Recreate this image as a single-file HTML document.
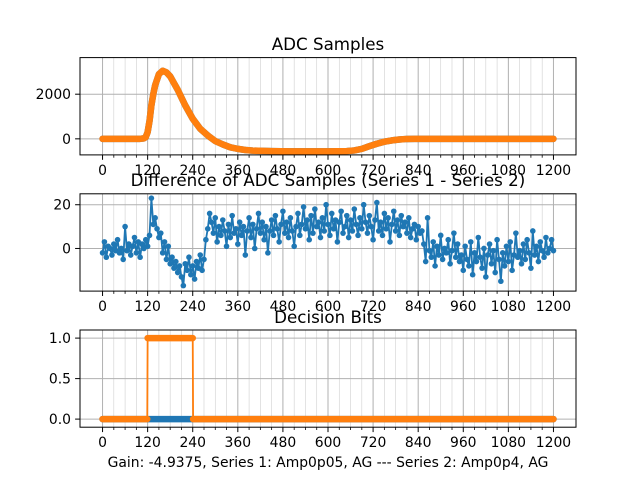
<!DOCTYPE html>
<html><head><meta charset="utf-8"><style>
body{margin:0;background:#fff}
svg{display:block;font-family:"DejaVu Sans","Liberation Sans",sans-serif}
</style></head><body>
<svg id="fig" width="640" height="480" viewBox="0 0 640 480">
<text x="328" y="50" font-size="16.7" text-anchor="middle">ADC Samples</text>
<text x="328" y="186" font-size="16.7" text-anchor="middle">Difference of ADC Samples (Series 1 - Series 2)</text>
<text x="328" y="323" font-size="16.7" text-anchor="middle">Decision Bits</text>
<text x="328" y="467" font-size="13.9" text-anchor="middle">Gain: -4.9375, Series 1: Amp0p05, AG --- Series 2: Amp0p4, AG</text>
</svg>
<script>
const xTicks=[0,120,240,360,480,600,720,840,960,1080,1200];
const adcX=[0,20,40,60,80,100,110,115,120,125,130,135,140,150,160,170,180,190,200,220,240,260,280,300,320,340,360,380,400,450,500,550,600,650,670,690,710,730,750,770,790,810,830,900,1000,1100,1200];
const adcY=[0,0,0,0,0,0,20,80,300,800,1500,2000,2400,2900,3050,2980,2800,2500,2200,1500,900,450,150,-100,-250,-380,-450,-500,-530,-550,-560,-560,-560,-550,-520,-450,-330,-220,-130,-70,-30,-5,0,0,0,0,0];
const adcTicks=[0,2000];
const diffStart=0, diffStep=5;
const diffY=[-2,3,-4,1,0,-3,2,-1,4,-2,0,-5,10,-1,2,-3,1,5,-2,3,-4,2,0,4,1,
6,23,11,14,9,5,
7,-2,3,-5,1,-7,-4,-9,-6,-11,-8,-13,-17,-7,-10,-4,-12,-8,-14,-6,-9,-3,-10,-5,
4,9,16,12,7,14,3,10,6,13,8,1,11,5,15,7,9,2,12,6,
10,-3,8,14,5,11,0,9,16,7,12,4,10,-2,8,13,6,15,9,3,
11,17,7,12,5,14,8,1,10,16,6,11,19,9,13,4,15,7,18,10,
12,5,14,8,20,11,6,16,9,13,3,12,17,7,10,15,5,13,8,18,
11,6,14,9,20,12,7,15,10,4,13,21,8,12,6,16,9,14,3,11,
17,8,13,6,15,10,12,7,14,5,9,11,4,10,7,8,
2,-6,14,-1,-4,3,-8,1,-3,6,-5,0,-2,4,-7,-1,7,-4,2,-6,
-3,-10,1,-5,-8,3,-12,-2,-6,5,-4,-9,0,-13,-3,2,-7,-1,-11,4,
-5,-15,-2,-8,1,-6,3,-10,-3,7,-4,-1,-7,2,-5,4,-2,-9,8,-3,
1,-6,3,-1,-4,5,-2,0,4,-1];
const diffTicks=[0,20];
const bits1X=[0,1200];
const bits1Y=[0,0];
const bits2X=[0,119,120,240,241,1200];
const bits2Y=[0,0,1,1,0,0];
const bitTicks=[0,0.5,1];
const bitTickLabels=["0.0","0.5","1.0"];

const svg=document.getElementById('fig');
const NS='http://www.w3.org/2000/svg';
function mk(t,a,p){const e=document.createElementNS(NS,t);for(const k in a)e.setAttribute(k,a[k]);(p||svg).appendChild(e);return e;}
const L=80,R=576;
function sx(v){return L+(v+60)/1320*(R-L);}
function axes(top,bot,y0,y1,ticks,labels,name){
  const sy=v=>bot-(v-y0)/(y1-y0)*(bot-top);
  const g=mk('g',{});
  
  
  for(let v=0;v<=1200;v+=30){if(v%120===0)continue;
    const l=mk('line',{x1:sx(v),x2:sx(v),y1:top,y2:bot,stroke:'#b0b0b0','stroke-width':0.6,'stroke-opacity':0.6},g);
    
    mk('line',{x1:sx(v),x2:sx(v),y1:bot,y2:bot+2.8,stroke:'#000','stroke-width':0.8},g);}
  xTicks.forEach(v=>{
    const l=mk('line',{x1:sx(v),x2:sx(v),y1:top,y2:bot,stroke:'#b0b0b0','stroke-width':1},g);
    
    mk('line',{x1:sx(v),x2:sx(v),y1:bot,y2:bot+4.9,stroke:'#000','stroke-width':1},g);
    const t=mk('text',{x:sx(v),y:bot+20,'font-size':13.9,'text-anchor':'middle'},g);t.textContent=v;
    });
  ticks.forEach((v,i)=>{
    const l=mk('line',{x1:L,x2:R,y1:sy(v),y2:sy(v),stroke:'#b0b0b0','stroke-width':1},g);
    
    mk('line',{x1:L-4.9,x2:L,y1:sy(v),y2:sy(v),stroke:'#000','stroke-width':1},g);
    const t=mk('text',{x:L-9,y:sy(v)+5,'font-size':13.9,'text-anchor':'end'},g);t.textContent=labels?labels[i]:v;
    });
  return sy;
}
function frame(top,bot){const r=mk('rect',{x:L,y:top,width:R-L,height:bot-top,fill:'none',stroke:'#000','stroke-width':1});
  }
function poly(xs,ys,sy,color,w,name){
  const p=mk('polyline',{points:xs.map((x,i)=>sx(x)+','+sy(ys[i])).join(' '),fill:'none',stroke:color,'stroke-width':w,'stroke-linejoin':'round','stroke-linecap':'round'});
  return p;}

let T1=57.6,B1=154.9;
let sy1=axes(T1,B1,-720,3640,adcTicks,null,'adc');
poly(adcX,adcY,sy1,'#1f77b4',6.5,'series-1-line');
poly(adcX,adcY,sy1,'#ff7f0e',6.5,'series-2-line');
frame(T1,B1);

let T2=193.8,B2=291.1;
let sy2=axes(T2,B2,-19.5,25,diffTicks,null,'diff');
const dx=diffY.map((v,i)=>diffStart+i*diffStep);
poly(dx,diffY,sy2,'#1f77b4',1.8,'difference-line');
dx.forEach((x,i)=>{const c=mk('circle',{cx:sx(x),cy:sy2(diffY[i]),r:2.8,fill:'#1f77b4'});
  });
frame(T2,B2);

let T3=330,B3=427.2;
let sy3=axes(T3,B3,-0.1,1.1,bitTicks,bitTickLabels,'bits');
poly(bits1X,bits1Y,sy3,'#1f77b4',6.5,'series-1-bits');
for(let i=0;i<bits2X.length-1;i++){if(bits2Y[i]===bits2Y[i+1]){poly([bits2X[i],bits2X[i+1]],[bits2Y[i],bits2Y[i+1]],sy3,'#ff7f0e',6.5,'series-2-bits-run');}else{poly([bits2X[i],bits2X[i+1]],[bits2Y[i],bits2Y[i+1]],sy3,'#ff7f0e',1.8,'series-2-bits-edge');}}
frame(T3,B3);
</script>
</body></html>
